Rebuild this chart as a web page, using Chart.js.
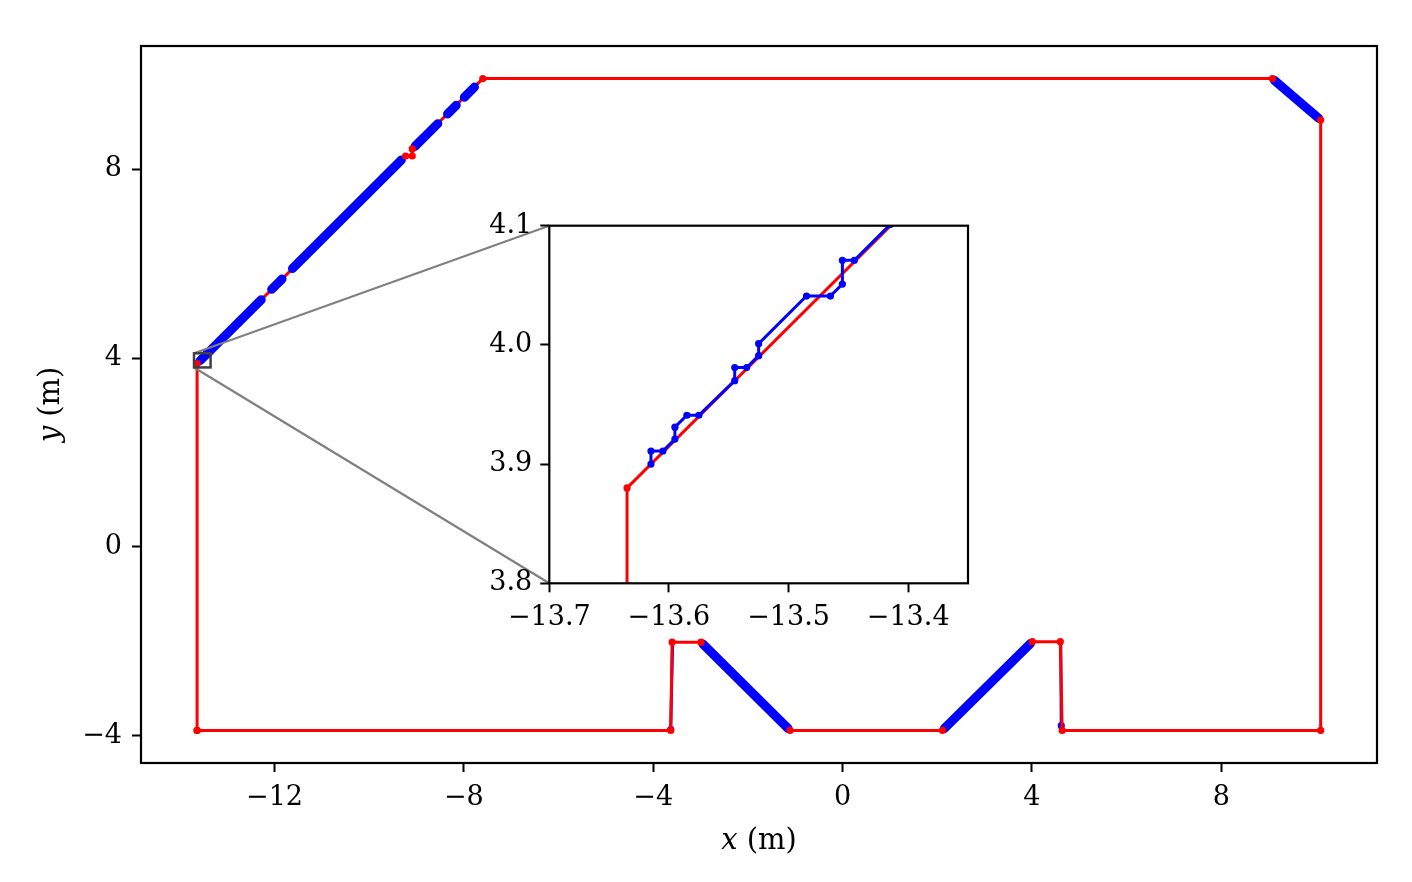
<!DOCTYPE html>
<html>
<head>
<meta charset="utf-8">
<script src="https://cdn.jsdelivr.net/npm/chart.js@4/dist/chart.umd.min.js"></script>
<style>
  body { margin: 0; background: #fff; }
  #wrap { position: relative; width: 1412px; height: 882px; }
  canvas { position: absolute; }
</style>
</head>
<body>
<div id="wrap">
  <canvas id="main" width="1412" height="882" style="left:0;top:0;width:1412px;height:882px"></canvas>
  <canvas id="inset" width="580" height="450" style="left:430px;top:190px;width:580px;height:450px"></canvas>
</div>
<script>
// reference path (red), vertices in metres
const RED_X = [-13.635, -13.635, -9.23, -9.09, -9.09, -7.60, 9.08, 10.10, 10.10, 4.64, 4.60, 4.01, 2.11, -1.11, -2.99, -3.60, -3.63, -13.635];
const RED_Y = [-3.89, 3.88, 8.28, 8.28, 8.43, 9.92, 9.92, 9.04, -3.89, -3.89, -2.01, -2.01, -3.89, -3.89, -2.02, -2.02, -3.89, -3.89];

// dense tracked trajectory (blue) drawn as thick runs in the main view
const BAND_X1 = [-13.56, -12.06, -11.62, -9.03, -8.345, -7.99, 9.12, -2.95, 2.15];
const BAND_Y1 = [3.955, 5.455, 5.895, 8.485, 9.17, 9.525, 9.885, -2.06, -3.85];
const BAND_X2 = [-12.28, -11.84, -9.32, -8.55, -8.16, -7.775, 10.06, -1.15, 3.97];
const BAND_Y2 = [5.235, 5.675, 8.195, 8.965, 9.355, 9.74, 9.075, -3.85, -2.05];

// short blue traces beside the vertical steps
const TRACE_X1 = [-3.63, 4.62];
const TRACE_Y1 = [-3.87, -3.79];
const TRACE_X2 = [-3.59, 4.61];
const TRACE_Y2 = [-2.02, -2.01];

// blue samples visible in the zoomed inset
const INSET_X = [-13.615, -13.615, -13.605, -13.595, -13.595, -13.585, -13.575, -13.545, -13.545, -13.535, -13.525, -13.525, -13.485, -13.465, -13.455, -13.455, -13.445, -13.415];
const INSET_Y = [3.900, 3.911, 3.911, 3.921, 3.931, 3.941, 3.941, 3.970, 3.981, 3.981, 3.991, 4.001, 4.041, 4.041, 4.051, 4.071, 4.071, 4.101];

const X_TICKS = [-12, -8, -4, 0, 4, 8];
const Y_TICKS = [-4, 0, 4, 8];
const INSET_X_TICKS = [-13.7, -13.6, -13.5, -13.4];
const INSET_Y_TICKS = [3.8, 3.9, 4.0, 4.1];
const ZOOM_BOX = { x0: -13.7, x1: -13.35, y0: 3.8, y1: 4.1 };

const FONT = '"DejaVu Serif", serif';
const RED = '#ff0000', BLUE = '#0000ff';

// inset placement on the page
const INSET_LEFT = 430, INSET_TOP = 190;
const INSET_AREA = { left: 549.3, top: 225.7, right: 968, bottom: 583.3 };

function fmt(v, d) {
    const s = Math.abs(v).toFixed(d);
    return v < 0 ? '\u2212' + s : s;
}
function pts(xs, ys) { return xs.map((x, i) => ({ x: x, y: ys[i] })); }
function segs(x1, y1, x2, y2) {
    const out = [];
    x1.forEach((x, i) => {
        out.push({ x: x, y: y1[i] }, { x: x2[i], y: y2[i] }, { x: x2[i], y: null });
    });
    return out;
}
function noPad(s) { s.paddingLeft = 0; s.paddingRight = 0; s.paddingTop = 0; s.paddingBottom = 0; }

function axis(ticks, dec, min, max, pos, size, pad) {
    return {
        type: 'linear', position: pos, min: min, max: max,
        grid: { drawOnChartArea: false, drawTicks: true, tickLength: 9, tickWidth: 2, tickColor: '#000' },
        border: { display: false },
        ticks: { color: '#000', font: { family: FONT, size: 27 }, padding: pad, maxRotation: 0,
                 callback: v => fmt(v, dec) },
        afterBuildTicks: s => { s.ticks = ticks.map(v => ({ value: v })); },
        afterFit: s => { if (pos === 'bottom') s.height = size; else s.width = size; noPad(s); }
    };
}

const frame = {
    id: 'frame',
    beforeDraw(chart) {
        const a = chart.chartArea, c = chart.ctx;
        c.save(); c.fillStyle = '#fff'; c.fillRect(a.left, a.top, a.width, a.height); c.restore();
    },
    afterDraw(chart) {
        const a = chart.chartArea, c = chart.ctx;
        c.save(); c.strokeStyle = '#000'; c.lineWidth = 2.2;
        c.strokeRect(a.left, a.top, a.width, a.height); c.restore();
    }
};

const decor = {
    id: 'decor',
    afterDatasetsDraw(chart) {
        const c = chart.ctx, xs = chart.scales.x, ys = chart.scales.y;
        const bx0 = xs.getPixelForValue(ZOOM_BOX.x0), bx1 = xs.getPixelForValue(ZOOM_BOX.x1);
        const by0 = ys.getPixelForValue(ZOOM_BOX.y0), by1 = ys.getPixelForValue(ZOOM_BOX.y1);
        c.save();
        c.strokeStyle = '#808080'; c.lineWidth = 2.2;
        c.beginPath();
        c.moveTo(bx0, by1); c.lineTo(INSET_AREA.left, INSET_AREA.top);
        c.moveTo(bx0, by0); c.lineTo(INSET_AREA.left, INSET_AREA.bottom);
        c.stroke();
        c.strokeStyle = '#404040'; c.lineWidth = 2.5;
        c.strokeRect(bx0, by1, bx1 - bx0, by0 - by1);
        c.restore();
    },
    afterDraw(chart) {
        const c = chart.ctx, a = chart.chartArea;
        c.save();
        c.fillStyle = '#000'; c.textBaseline = 'middle';
        const it = 'italic 29px ' + FONT, rm = '29px ' + FONT;
        function label(v, x, y, rot) {
            c.save(); c.translate(x, y); c.rotate(rot);
            c.font = it; const w1 = c.measureText(v).width;
            c.font = rm; const w2 = c.measureText(' (m)').width;
            let x0 = -(w1 + w2) / 2;
            c.textAlign = 'left';
            c.font = it; c.fillText(v, x0, 0);
            c.font = rm; c.fillText(' (m)', x0 + w1, 0);
            c.restore();
        }
        label('x', (a.left + a.right) / 2, 841, 0);
        label('y', 51, (a.top + a.bottom) / 2, -Math.PI / 2);
        c.restore();
    }
};

Chart.defaults.animation = false;

const lineDefaults = { tension: 0, pointHoverRadius: 0, fill: false };

new Chart(document.getElementById('inset'), {
    type: 'line',
    data: {
        datasets: [
            Object.assign({ data: pts(RED_X, RED_Y), borderColor: RED, backgroundColor: RED, borderWidth: 0,
                pointRadius: 3.6, showLine: false, order: 0 }, lineDefaults),
            Object.assign({ data: pts(INSET_X, INSET_Y), borderColor: BLUE, backgroundColor: BLUE, borderWidth: 3,
                pointRadius: 3.6, pointBorderWidth: 0, order: 1 }, lineDefaults),
            Object.assign({ data: pts(RED_X, RED_Y), borderColor: RED, borderWidth: 3, pointRadius: 0, order: 2 }, lineDefaults)
        ]
    },
    options: {
        responsive: false, animation: false,
        layout: { padding: { left: 0, top: INSET_AREA.top - INSET_TOP, right: INSET_LEFT + 580 - INSET_AREA.right, bottom: 0 } },
        plugins: { legend: { display: false }, tooltip: { enabled: false } },
        scales: {
            x: axis(INSET_X_TICKS, 1, -13.7, -13.35, 'bottom', INSET_TOP + 450 - INSET_AREA.bottom, 9),
            y: axis(INSET_Y_TICKS, 1, 3.8, 4.1, 'left', INSET_AREA.left - INSET_LEFT, 8)
        }
    },
    plugins: [frame]
});

new Chart(document.getElementById('main'), {
    type: 'line',
    data: {
        datasets: [
            Object.assign({ data: pts(RED_X, RED_Y), borderColor: RED, backgroundColor: RED, borderWidth: 0,
                pointRadius: 3.6, pointBorderWidth: 0, showLine: false, order: 0 }, lineDefaults),
            Object.assign({ data: segs(BAND_X1, BAND_Y1, BAND_X2, BAND_Y2), borderColor: BLUE, borderWidth: 9,
                borderCapStyle: 'round', pointRadius: 0, spanGaps: false, order: 1 }, lineDefaults),
            Object.assign({ data: pts(INSET_X, INSET_Y), borderColor: BLUE, backgroundColor: BLUE, borderWidth: 3,
                pointRadius: 3.3, pointBorderWidth: 0, order: 2 }, lineDefaults),
            Object.assign({ data: pts(RED_X, RED_Y), borderColor: RED, borderWidth: 3, pointRadius: 0, order: 3 }, lineDefaults),
            Object.assign({ data: segs(TRACE_X1, TRACE_Y1, TRACE_X2, TRACE_Y2), borderColor: BLUE, backgroundColor: BLUE,
                borderWidth: 3, pointRadius: [3.6, 0, 0, 3.6, 0, 0], pointBorderWidth: 0, spanGaps: false, order: 4 }, lineDefaults)
        ]
    },
    options: {
        responsive: false, animation: false,
        layout: { padding: { left: 0, top: 46, right: 35, bottom: 0 } },
        plugins: { legend: { display: false }, tooltip: { enabled: false } },
        scales: {
            x: axis(X_TICKS, 0, -14.82, 11.29, 'bottom', 119, 10),
            y: axis(Y_TICKS, 0, -4.58, 10.61, 'left', 141, 10)
        }
    },
    plugins: [frame, decor]
});
</script>
</body>
</html>
